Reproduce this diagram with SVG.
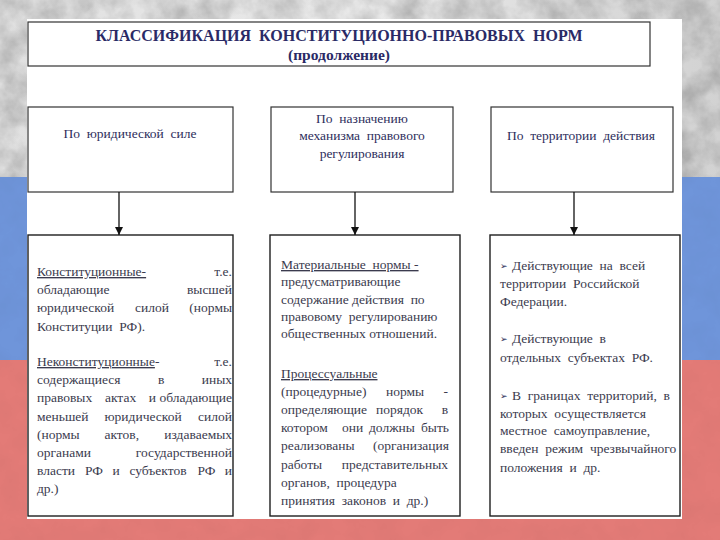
<svg xmlns="http://www.w3.org/2000/svg" width="720" height="540" viewBox="0 0 720 540">
<defs>
  <filter id="grain" x="0" y="0" width="100%" height="100%">
    <feTurbulence type="fractalNoise" baseFrequency="0.04" numOctaves="4" seed="7" result="n"/>
    <feColorMatrix type="matrix" values="0 0 0 0 0  0 0 0 0 0  0 0 0 0 0  0.35 0 0 0 -0.1" result="a"/>
    <feComposite in="a" in2="SourceGraphic" operator="in"/>
  </filter>
  <marker id="arr" viewBox="0 0 10 10" refX="10" refY="5" markerWidth="8" markerHeight="8" markerUnits="userSpaceOnUse" orient="auto">
    <path d="M0,0 L10,5 L0,10 z" fill="#111"/>
  </marker>
  <linearGradient id="grayg" x1="0" y1="0" x2="1" y2="0">
    <stop offset="0" stop-color="#e0e0e0"/>
    <stop offset="0.5" stop-color="#eaeaea"/>
    <stop offset="1" stop-color="#d2d2d2"/>
  </linearGradient>
</defs>
<style>
  text{font-family:"Liberation Serif","Times New Roman",serif}
  .box{fill:#ffffff;stroke:#333333;stroke-width:1.2}
  .cbox{fill:#ffffff;stroke:#1e1e1e;stroke-width:1.4}
  .hd{font-size:13.5px;fill:#2e2e5c;white-space:pre}
  .tx{font-size:13.5px;fill:#3b3b4e;white-space:pre}
  .end{text-anchor:end}
  .u{text-decoration:underline}
  .title{font-weight:bold;fill:#2a2a66;text-anchor:middle;white-space:pre}
  .bul{font-family:"DejaVu Sans",sans-serif;font-size:9px;fill:#2a2a55}
  .conn{stroke:#111111;stroke-width:1.3;fill:none}
</style>

<!-- background flag -->
<rect x="0" y="0" width="720" height="178" fill="url(#grayg)"/>
<rect x="0" y="0" width="720" height="178" fill="#a0a0a0" filter="url(#grain)"/>
<rect x="0" y="177" width="720" height="184" fill="#6f95da"/>
<rect x="0" y="360" width="720" height="180" fill="#e37b77"/>
<rect x="0" y="177" width="720" height="363" fill="#ffffff" opacity="0.12" filter="url(#grain)"/>

<!-- white panel -->
<rect x="27" y="19" width="655" height="500" fill="#ffffff"/>

<g id="title">
  <rect x="28" y="22" width="622" height="44" fill="#ffffff" stroke="#333333" stroke-width="1.2"/>
  <text class="title" x="339" y="41" font-size="16">КЛАССИФИКАЦИЯ  КОНСТИТУЦИОННО-ПРАВОВЫХ  НОРМ</text>
  <text class="title" x="339" y="60" font-size="15.5">(продолжение)</text>
</g>

<g id="h1">
  <rect class="box" x="28" y="107" width="205" height="85"/>
  <text class="hd" x="130" y="138" text-anchor="middle">По  юридической  силе</text>
</g>
<g id="h2">
  <rect class="box" x="271" y="107" width="182" height="85"/>
  <text class="hd" x="362" y="123" text-anchor="middle">По  назначению</text>
  <text class="hd" x="362" y="140" text-anchor="middle">механизма  правового</text>
  <text class="hd" x="362" y="158" text-anchor="middle">регулирования</text>
</g>
<g id="h3">
  <rect class="box" x="491" y="107" width="182" height="85"/>
  <text class="hd" x="581" y="140" text-anchor="middle">По  территории  действия</text>
</g>

<g id="c1">
  <rect class="cbox" x="28" y="235" width="205" height="281"/>
  <text class="tx u" x="37" y="276">Конституционные-</text>
  <text class="tx end" x="232" y="276">т.е.</text>
  <text class="tx" x="37" y="294">обладающие</text>
  <text class="tx end" x="232" y="294">высшей</text>
  <text class="tx" x="37" y="312">юридической</text>
  <text class="tx" x="135" y="312">силой</text>
  <text class="tx end" x="232" y="312">(нормы</text>
  <text class="tx" x="37" y="331">Конституции  РФ).</text>
  <text class="tx" x="37" y="366"><tspan class="u">Неконституционные</tspan>-</text>
  <text class="tx end" x="232" y="366">т.е.</text>
  <text class="tx" x="37" y="384">содержащиеся</text>
  <text class="tx" x="158" y="384">в</text>
  <text class="tx end" x="232" y="384">иных</text>
  <text class="tx" x="37" y="402">правовых</text>
  <text class="tx" x="105" y="402">актах</text>
  <text class="tx end" x="232" y="402">и обладающие</text>
  <text class="tx" x="37" y="421">меньшей</text>
  <text class="tx" x="104.5" y="421">юридической</text>
  <text class="tx end" x="232" y="421">силой</text>
  <text class="tx" x="37" y="439">(нормы</text>
  <text class="tx" x="104.5" y="439">актов,</text>
  <text class="tx end" x="232" y="439">издаваемых</text>
  <text class="tx" x="37" y="457">органами</text>
  <text class="tx end" x="232" y="457">государственной</text>
  <text class="tx" x="37" y="475">власти</text>
  <text class="tx" x="85" y="475">РФ</text>
  <text class="tx" x="112.4" y="475">и</text>
  <text class="tx" x="129.4" y="475">субъектов</text>
  <text class="tx" x="197.4" y="475">РФ</text>
  <text class="tx end" x="232" y="475">и</text>
  <text class="tx" x="37" y="493">др.)</text>
</g>

<g id="c2">
  <rect class="cbox" x="270" y="235" width="190" height="281"/>
  <text class="tx u" x="281" y="269">Материальные  нормы -</text>
  <text class="tx" x="281" y="286">предусматривающие</text>
  <text class="tx" x="281" y="304">содержание действия  по</text>
  <text class="tx" x="281" y="321">правовому  регулированию</text>
  <text class="tx" x="281" y="338">общественных отношений.</text>
  <text class="tx u" x="281" y="378">Процессуальные</text>
  <text class="tx" x="281" y="396">(процедурные)</text>
  <text class="tx" x="386" y="396">нормы</text>
  <text class="tx end" x="448" y="396">-</text>
  <text class="tx" x="281" y="414">определяющие</text>
  <text class="tx" x="376" y="414">порядок</text>
  <text class="tx end" x="448" y="414">в</text>
  <text class="tx" x="281" y="432">котором</text>
  <text class="tx" x="342" y="432">они</text>
  <text class="tx" x="369" y="432">должны</text>
  <text class="tx end" x="449" y="432">быть</text>
  <text class="tx" x="281" y="450">реализованы</text>
  <text class="tx end" x="449" y="450">(организация</text>
  <text class="tx" x="281" y="469">работы</text>
  <text class="tx end" x="448" y="469">представительных</text>
  <text class="tx" x="281" y="487">органов,  процедура</text>
  <text class="tx" x="281" y="505">принятия  законов  и  др.)</text>
</g>

<g id="c3">
  <rect class="cbox" x="490" y="235" width="190" height="281"/>
  <text class="bul" x="500" y="269">➢</text>
  <text class="tx" x="512" y="270">Действующие  на  всей</text>
  <text class="tx" x="500" y="288">территории  Российской</text>
  <text class="tx" x="500" y="306">Федерации.</text>
  <text class="bul" x="500" y="342">➢</text>
  <text class="tx" x="512" y="343">Действующие  в</text>
  <text class="tx" x="500" y="362">отдельных  субъектах  РФ.</text>
  <text class="bul" x="500" y="399">➢</text>
  <text class="tx" x="512" y="400">В  границах  территорий,  в</text>
  <text class="tx" x="500" y="418">которых  осуществляется</text>
  <text class="tx" x="500" y="435">местное  самоуправление,</text>
  <text class="tx" x="500" y="453">введен  режим  чрезвычайного</text>
  <text class="tx" x="500" y="472">положения  и  др.</text>
</g>

<g id="connectors">
  <line class="conn" x1="119" y1="192" x2="119" y2="235" marker-end="url(#arr)"/>
  <line class="conn" x1="355" y1="192" x2="355" y2="235" marker-end="url(#arr)"/>
  <line class="conn" x1="574" y1="192" x2="574" y2="235" marker-end="url(#arr)"/>
</g>
</svg>
